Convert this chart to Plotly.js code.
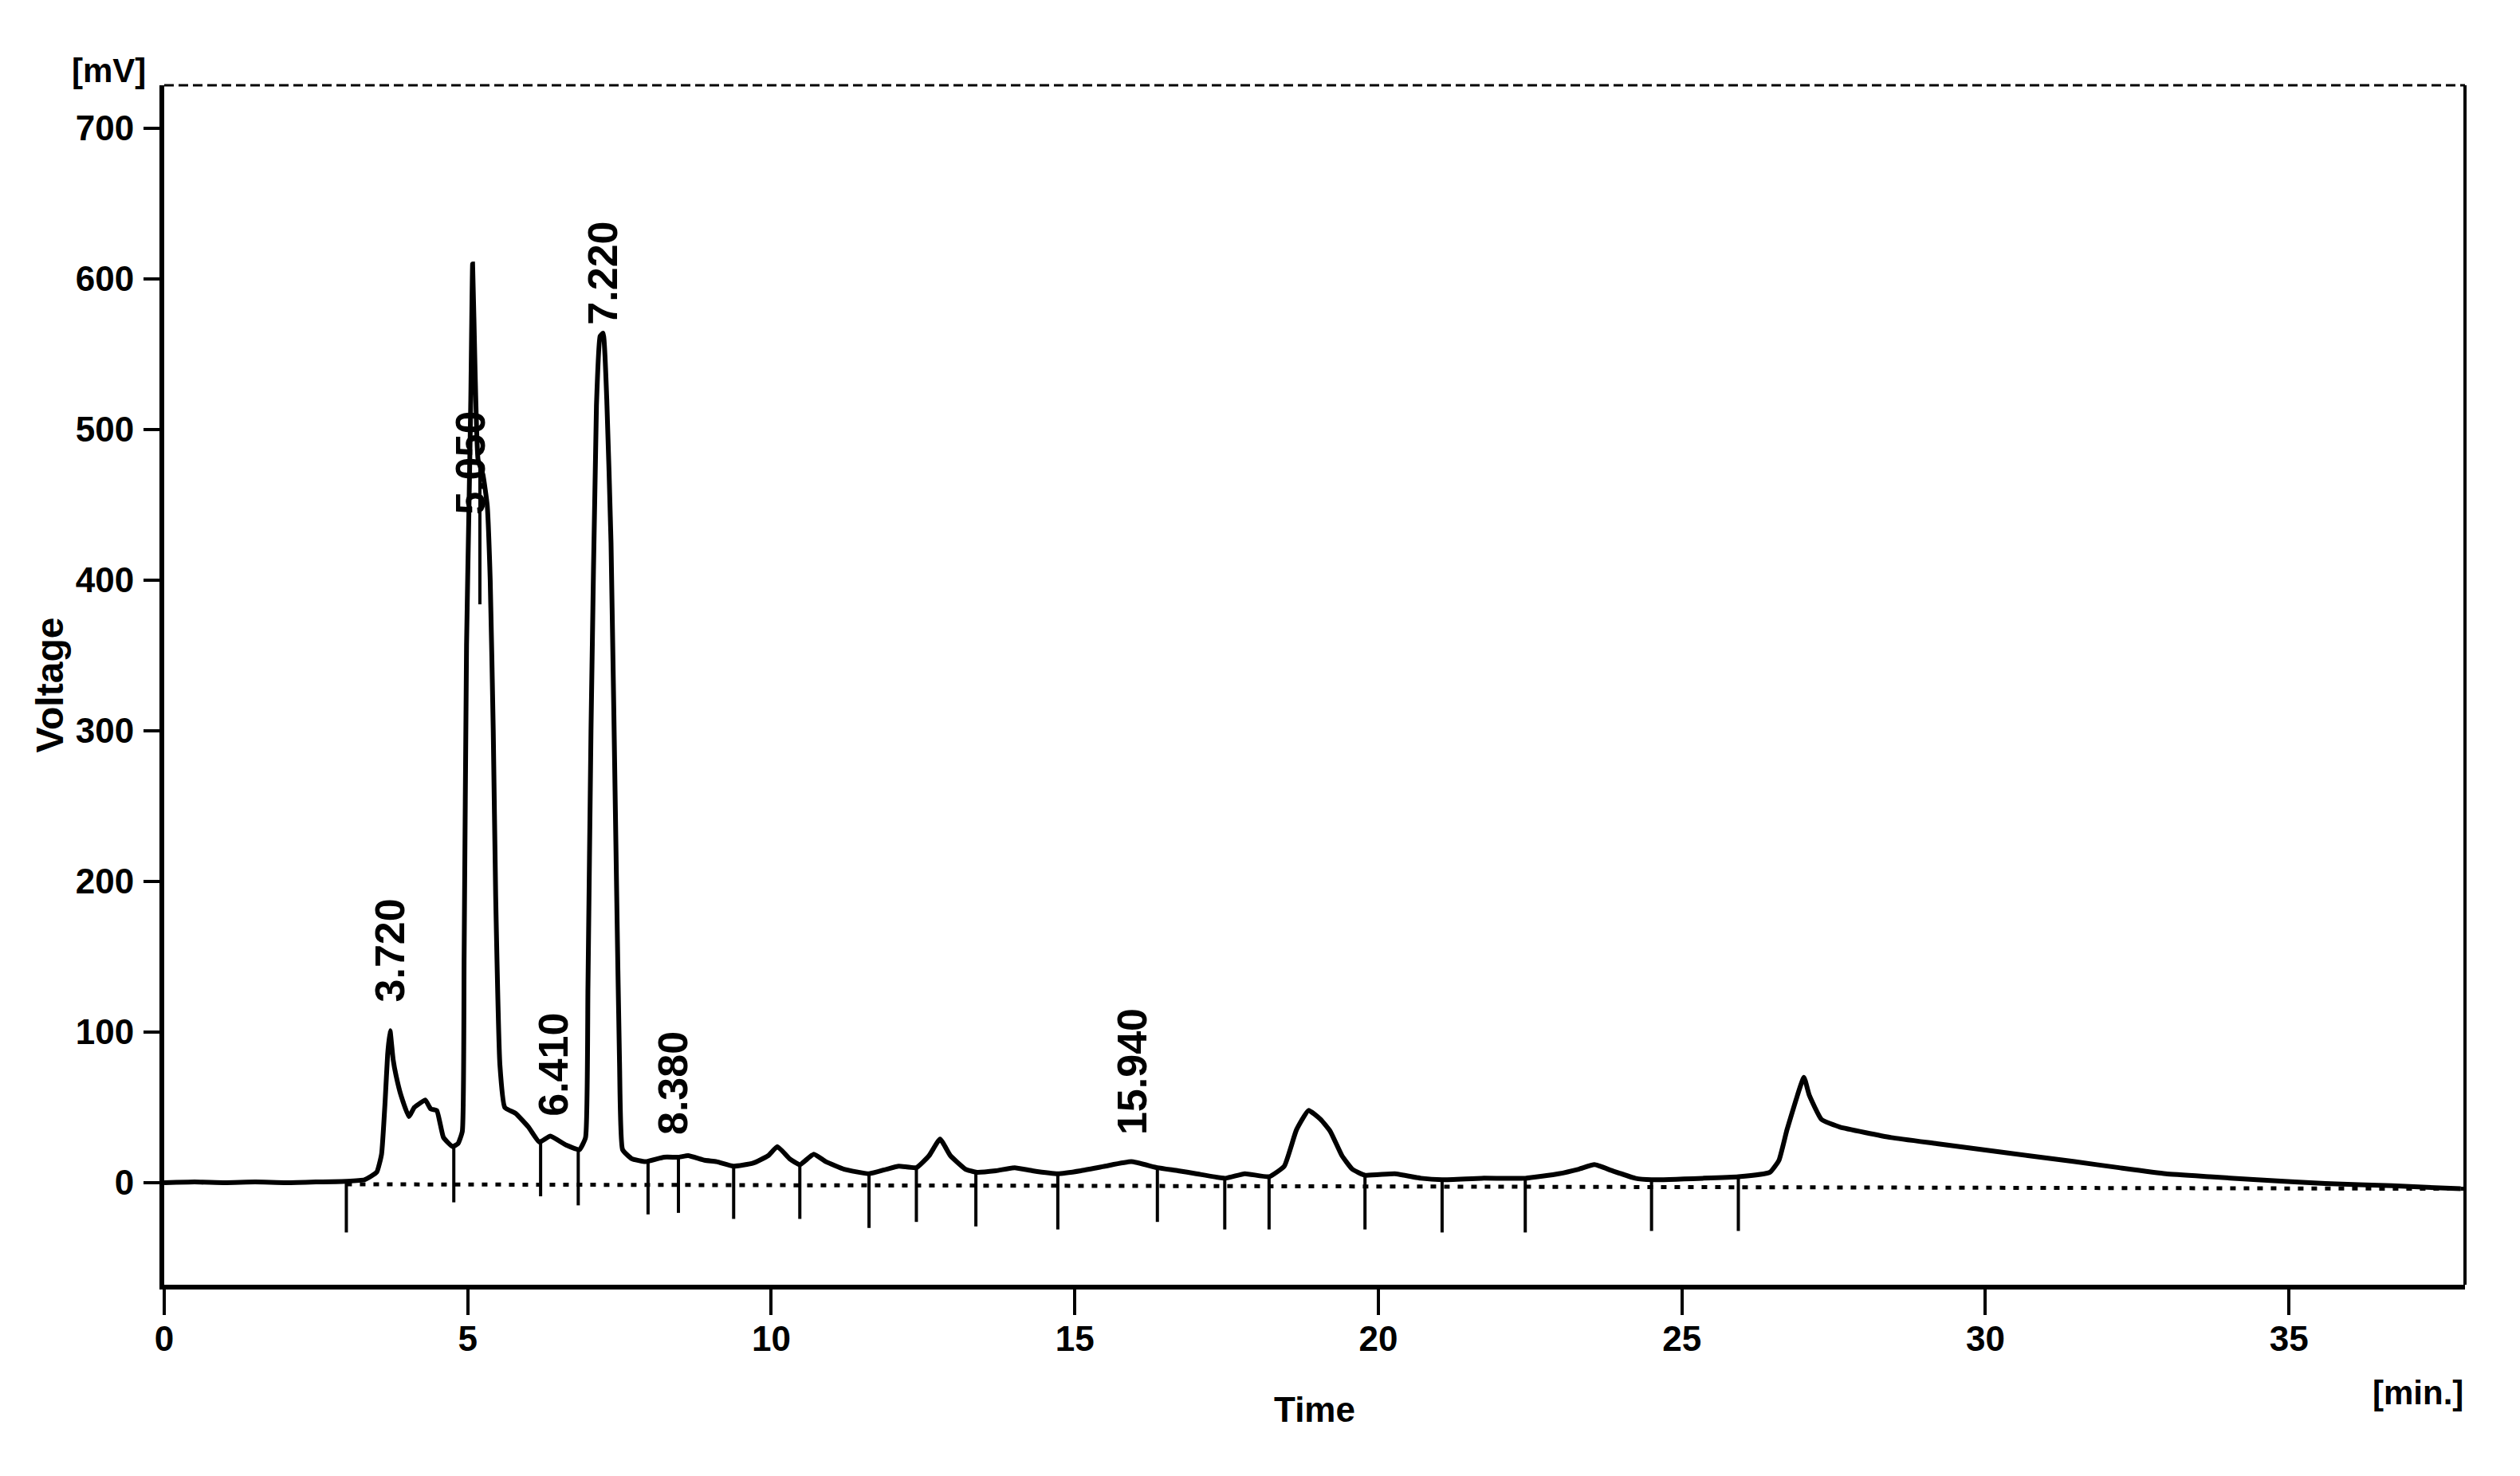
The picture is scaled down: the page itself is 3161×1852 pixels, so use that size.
<!DOCTYPE html>
<html><head><meta charset="utf-8">
<script src="https://cdn.plot.ly/plotly-3.0.1.min.js"></script>
<style>html,body{margin:0;padding:0;background:#fff;}#chart{width:3161px;height:1852px;}</style>
</head><body><div id="chart"></div>
<script>
// ---- data ----
const timeMin = [0, 0.5, 1.0, 1.5, 2.0, 2.5, 3.0, 3.3, 3.5, 3.58, 3.64, 3.68, 3.72, 3.77, 3.82, 3.9, 4.03, 4.12, 4.22, 4.3, 4.39, 4.49, 4.6, 4.75, 4.84, 4.91, 4.94, 4.98, 5.02, 5.05, 5.08, 5.12, 5.17, 5.25, 5.32, 5.37, 5.42, 5.46, 5.53, 5.61, 5.79, 6.0, 6.18, 6.36, 6.62, 6.84, 6.94, 6.98, 7.03, 7.12, 7.18, 7.23, 7.29, 7.36, 7.45, 7.5, 7.55, 7.7, 7.93, 8.23, 8.48, 8.63, 8.9, 9.1, 9.38, 9.7, 9.95, 10.1, 10.3, 10.47, 10.7, 10.9, 11.2, 11.61, 11.9, 12.1, 12.39, 12.6, 12.78, 12.95, 13.2, 13.37, 13.7, 14.01, 14.3, 14.72, 15.1, 15.5, 15.93, 16.36, 16.7, 17.0, 17.48, 17.8, 18.2, 18.45, 18.65, 18.85, 19.05, 19.21, 19.4, 19.57, 19.78, 20.27, 20.7, 21.05, 21.7, 22.42, 22.97, 23.3, 23.56, 23.85, 24.23, 24.5, 25.35, 25.93, 26.45, 26.6, 26.73, 26.88, 27.01, 27.1, 27.3, 27.6, 28.45, 29.2, 29.95, 30.7, 31.47, 32.2, 32.97, 33.7, 34.47, 35.6, 36.7, 37.83];
const voltageMv = [0, 0.5, 0, 0.5, 0, 0.5, 1, 2, 7, 19, 55, 85, 101, 82, 71, 58, 44, 50, 53, 55, 49, 48, 30, 24, 26, 34, 150, 357, 448, 520, 610, 540, 480, 470, 450, 400, 300, 190, 78, 50, 46, 37, 27, 31, 25, 22, 30, 130, 300, 516, 562, 564, 520, 425, 200, 80, 22, 16, 14, 17, 17, 18, 15, 14, 11, 13, 18, 24, 16, 12, 19, 14, 9, 6, 9, 11, 10, 18, 29, 18, 9, 7, 8, 10, 8, 6, 8, 11, 14, 10, 8, 6, 3, 6, 4, 11, 35, 48, 42, 34, 18, 9, 5, 6, 3, 2, 3, 3, 6, 9, 12, 8, 3, 2, 3, 4, 7, 15, 35, 55, 70, 58, 42, 37, 30, 26, 22, 18, 14, 10, 6, 4, 2, -0.5, -2, -4];

// integration event marks (time, lower end in mV)
const eventTimes = [3.0, 4.77, 5.2, 6.2, 6.82, 7.97, 8.47, 9.38, 10.47, 11.61, 12.39, 13.37, 14.72, 16.36, 17.47, 18.2, 19.78, 21.05, 22.42, 24.5, 25.93];
const eventBottoms = [-33, -13, 384, -9, -15, -21, -20, -24, -24, -30, -26, -29, -31, -26, -31, -31, -31, -33, -33, -32, -32];

// peak retention-time labels
const peakLabels = ["3.720", "5.050", "6.410", "7.220", "8.380", "15.940"];

// integration baseline
const baselineTimes = [3.0, 37.9];
const baselineMv = [-1, -4];

const xTickVals = [0, 5, 10, 15, 20, 25, 30, 35];
const yTickVals = [0, 100, 200, 300, 400, 500, 600, 700];

// ---- drawing ----
const font = "'Liberation Sans', Arial, sans-serif";
const ink = '#000000';

function interp(t) {
  for (let i = 0; i < timeMin.length - 1; i++) {
    if (t >= timeMin[i] && t <= timeMin[i + 1]) {
      const f = (t - timeMin[i]) / (timeMin[i + 1] - timeMin[i]);
      return voltageMv[i] + f * (voltageMv[i + 1] - voltageMv[i]);
    }
  }
  return voltageMv[voltageMv.length - 1];
}

const ex = [], ey = [];
eventTimes.forEach((t, i) => { ex.push(t, t, null); ey.push(interp(t), eventBottoms[i], null); });

const traces = [
  { x: baselineTimes, y: baselineMv, mode: 'lines', line: { color: ink, width: 5, dash: '7px,10px' }, hoverinfo: 'skip' },
  { x: ex, y: ey, mode: 'lines', line: { color: ink, width: 4 }, hoverinfo: 'skip' },
  { x: timeMin, y: voltageMv, mode: 'lines', line: { color: ink, width: 6, shape: 'spline', smoothing: 0.4 } }
];

const labelShiftPx = [34, -147, 25, 9, 26, 32];
const annotations = peakLabels.map((lab, i) => {
  const t = parseFloat(lab);
  return {
    x: t, y: interp(t), xref: 'x', yref: 'y', text: lab, showarrow: false,
    textangle: -90, xanchor: 'center', yanchor: 'bottom', yshift: labelShiftPx[i],
    font: { family: font, size: 52, color: ink, weight: 'bold' }
  };
});
annotations.push({ xref: 'paper', yref: 'paper', x: -0.024, y: 1.012, text: '[mV]', showarrow: false,
  xanchor: 'center', yanchor: 'middle', font: { family: font, size: 42, color: ink, weight: 'bold' } });
annotations.push({ xref: 'paper', yref: 'paper', x: 1.0, y: -0.09, text: '[min.]', showarrow: false,
  xanchor: 'right', yanchor: 'middle', font: { family: font, size: 42, color: ink, weight: 'bold' } });

const layout = {
  width: 3161, height: 1852,
  margin: { l: 206, r: 69, t: 107, b: 240, pad: 0 },
  paper_bgcolor: '#ffffff', plot_bgcolor: '#ffffff',
  showlegend: false,
  xaxis: {
    range: [0, 37.9], tickvals: xTickVals, ticktext: xTickVals.map(String),
    ticks: 'outside', ticklen: 32, tickwidth: 4, tickcolor: ink, ticklabelstandoff: -8,
    showline: true, linewidth: 6, linecolor: ink, showgrid: false, zeroline: false,
    tickfont: { family: font, size: 44, color: ink, weight: 'bold' },
    title: { text: 'Time', standoff: 52, font: { family: font, size: 44, color: ink, weight: 'bold' } }
  },
  yaxis: {
    range: [-67.7, 728.6], tickvals: yTickVals, ticktext: yTickVals.map(String),
    ticks: 'outside', ticklen: 20, tickwidth: 4, tickcolor: ink, ticklabelstandoff: 3,
    showline: true, linewidth: 6, linecolor: ink, showgrid: false, zeroline: false,
    tickfont: { family: font, size: 44, color: ink, weight: 'bold' },
    title: { text: 'Voltage', standoff: 2, font: { family: font, size: 48, color: ink, weight: 'bold' } }
  },
  shapes: [
    { type: 'line', xref: 'paper', yref: 'paper', x0: 1, x1: 1, y0: 0, y1: 1, line: { color: ink, width: 4 } },
    { type: 'line', xref: 'paper', yref: 'paper', x0: 0, x1: 1, y0: 1, y1: 1, line: { color: ink, width: 3, dash: '12px,6px' } }
  ],
  annotations: annotations
};

Plotly.newPlot('chart', traces, layout, { staticPlot: true, displayModeBar: false });
</script>
</body></html>
